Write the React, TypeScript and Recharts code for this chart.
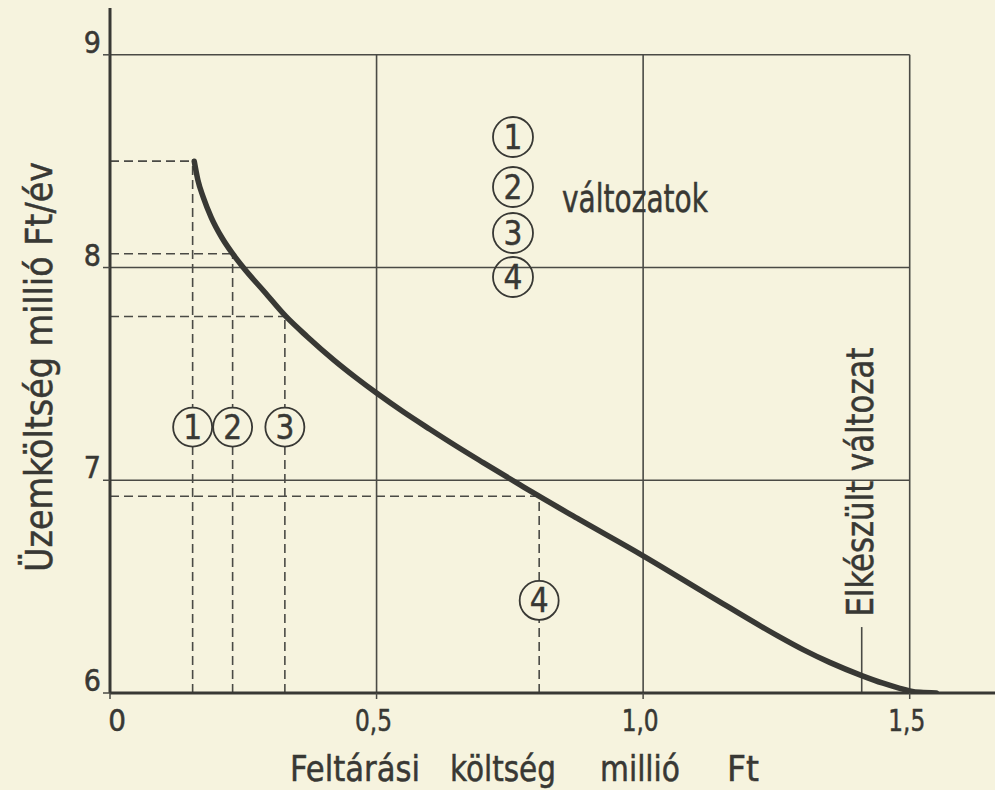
import React from 'react';
import {
  ComposedChart,
  Line,
  XAxis,
  YAxis,
  ReferenceLine,
  ReferenceDot,
} from 'recharts';

// üzemköltség görbe (millió Ft/év) a feltárási költség függvényében
const costX = [
  0.158, 0.165, 0.175, 0.19, 0.21, 0.23, 0.25, 0.29, 0.33, 0.37, 0.42, 0.46,
  0.5, 0.55, 0.6, 0.65, 0.7, 0.77, 0.8, 0.88, 1.0, 1.125, 1.25, 1.3, 1.35,
  1.41, 1.45, 1.48, 1.5, 1.52, 1.55,
];
const costY = [
  8.5, 8.41, 8.33, 8.235, 8.14, 8.065, 8.0, 7.885, 7.77, 7.675, 7.565, 7.485,
  7.41, 7.322, 7.24, 7.16, 7.083, 6.977, 6.932, 6.816, 6.645, 6.457, 6.272,
  6.204, 6.144, 6.082, 6.046, 6.023, 6.01, 6.003, 6.0,
];

// változatok
const variantIds = ['1', '2', '3', '4'];
const variantX = [0.155, 0.23, 0.328, 0.805];
const variantY = [8.5, 8.065, 7.77, 6.925];

const builtX = 1.41;
const builtTop = 6.31;

const xTicks = [0, 0.5, 1.0, 1.5];
const xTickLabels = ['0', '0,5', '1,0', '1,5'];
const yTicks = [6, 7, 8, 9];
const yTickLabels = ['6', '7', '8', '9'];
const gridX = [0.5, 1.0, 1.5];
const gridY = [7, 8, 9];

const xTitleWords = ['Feltárási', 'költség', 'millió', 'Ft'];
const yTitle = 'Üzemköltség millió Ft/év';
const builtLabel = 'Elkészült változat';
const legendLabel = 'változatok';

const INK = '#383834';
const LINE = '#4a4a45';
const PAPER = '#f6f3de';
const FONT = '"DejaVu Sans Condensed", "DejaVu Sans", sans-serif';

const data = costX.map((x, i) => ({ x, y: costY[i] }));

const stretch = (w?: number) =>
  w ? { textLength: w, lengthAdjust: 'spacingAndGlyphs' as const } : {};

const txt = { fill: INK, fontFamily: FONT, stroke: INK, strokeWidth: 0.5 };

const renderXTick = (props: any) => {
  const { x, y, payload } = props;
  const i = xTicks.indexOf(payload.value);
  const label = xTickLabels[i] ?? String(payload.value);
  const dx = payload.value === 0 ? 7 : -3;
  return (
    <text
      x={x + dx}
      y={y + 30}
      textAnchor="middle"
      fontSize={31}
      {...txt}
      {...stretch(label.length > 1 ? 37 : undefined)}
    >
      {label}
    </text>
  );
};

const renderYTick = (props: any) => {
  const { x, y, payload } = props;
  const i = yTicks.indexOf(payload.value);
  return (
    <text x={x} y={y - 2} textAnchor="end" fontSize={30} {...txt}>
      {yTickLabels[i]}
    </text>
  );
};

const renderXTitle = (props: any) => {
  const vb = props.viewBox ?? { x: 110, y: 693 };
  const at = [290, 450, 600, 727];
  const widths = [130, 106, 80, 32];
  return (
    <g>
      {xTitleWords.map((w, i) => (
        <text key={w} x={at[i]} y={vb.y + 88} fontSize={36} {...txt} {...stretch(widths[i])}>
          {w}
        </text>
      ))}
    </g>
  );
};

const renderYTitle = () => {
  const cx = 52;
  const cy = 367;
  return (
    <text
      x={cx}
      y={cy}
      transform={`rotate(-90 ${cx} ${cy})`}
      textAnchor="middle"
      fontSize={37}
      {...txt}
      {...stretch(410)}
    >
      {yTitle}
    </text>
  );
};

const renderBuiltLabel = (props: any) => {
  const vb = props.viewBox ?? { x: 862, y: 627 };
  const cx = vb.x + 11;
  const cy = vb.y - 145;
  return (
    <text
      x={cx}
      y={cy}
      transform={`rotate(-90 ${cx} ${cy})`}
      textAnchor="middle"
      fontSize={38}
      {...txt}
      {...stretch(269)}
    >
      {builtLabel}
    </text>
  );
};

const markerLabel = (id: string) => (props: any) => {
  const vb = props.viewBox ?? { x: 0, y: 0, width: 0, height: 0 };
  const cx = vb.x + (vb.width || 0) / 2;
  const cy = vb.y + (vb.height || 0) / 2;
  return (
    <text x={cx} y={cy + 12} textAnchor="middle" fontSize={33} {...txt} strokeWidth={0.4}>
      {id}
    </text>
  );
};

const VariantLegend = () => {
  const rows = [137, 187, 233, 277];
  return (
    <svg
      width={995}
      height={790}
      style={{ position: 'absolute', left: 0, top: 0, pointerEvents: 'none' }}
    >
      {variantIds.map((id, i) => (
        <g key={id}>
          <circle cx={513} cy={rows[i]} r={20} fill="none" stroke={INK} strokeWidth={1.8} />
          <text
            x={513}
            y={rows[i] + 12}
            textAnchor="middle"
            fontSize={33}
            {...txt}
            strokeWidth={0.4}
          >
            {id}
          </text>
        </g>
      ))}
      <text x={562} y={212} fontSize={39} {...txt} {...stretch(146)}>
        {legendLabel}
      </text>
    </svg>
  );
};

export default function App() {
  return (
    <div
      style={{
        position: 'fixed',
        left: 0,
        top: 0,
        width: 995,
        height: 790,
        background: PAPER,
        overflow: 'hidden',
      }}
    >
      <ComposedChart
        width={995}
        height={790}
        data={data}
        margin={{ top: 8, right: 0, bottom: 0, left: 0 }}
      >
        <XAxis
          type="number"
          dataKey="x"
          domain={[0, 1.66]}
          ticks={xTicks}
          interval={0}
          allowDataOverflow
          height={97}
          axisLine={{ stroke: INK, strokeWidth: 3 }}
          tickLine={{ stroke: LINE, strokeWidth: 1.5 }}
          tickSize={6}
          tick={renderXTick}
          label={renderXTitle}
        />
        <YAxis
          type="number"
          domain={[6, 9.22]}
          ticks={yTicks}
          interval={0}
          allowDataOverflow
          width={110}
          axisLine={{ stroke: INK, strokeWidth: 3 }}
          tickLine={{ stroke: LINE, strokeWidth: 1.5 }}
          tickSize={7}
          tick={renderYTick}
          label={renderYTitle}
        />

        {gridY.map((g) => (
          <ReferenceLine
            key={`gy${g}`}
            segment={[{ x: 0, y: g }, { x: 1.5, y: g }]}
            stroke={LINE}
            strokeWidth={1.6}
          />
        ))}
        {gridX.map((g) => (
          <ReferenceLine
            key={`gx${g}`}
            segment={[{ x: g, y: 6 }, { x: g, y: 9 }]}
            stroke={LINE}
            strokeWidth={1.6}
          />
        ))}

        {variantIds.map((id, i) => (
          <ReferenceLine
            key={`vh${id}`}
            segment={[{ x: 0, y: variantY[i] }, { x: variantX[i], y: variantY[i] }]}
            stroke={LINE}
            strokeWidth={1.6}
            strokeDasharray="9 5"
          />
        ))}
        {variantIds.map((id, i) => (
          <ReferenceLine
            key={`vv${id}`}
            segment={[{ x: variantX[i], y: 6 }, { x: variantX[i], y: variantY[i] }]}
            stroke={LINE}
            strokeWidth={1.6}
            strokeDasharray="9 5"
          />
        ))}

        <ReferenceLine
          segment={[{ x: builtX, y: 6 }, { x: builtX, y: builtTop }]}
          stroke={LINE}
          strokeWidth={1.6}
          label={renderBuiltLabel}
        />

        <Line
          type="monotone"
          dataKey="y"
          stroke={INK}
          strokeWidth={5.5}
          strokeLinecap="round"
          dot={false}
          activeDot={false}
          isAnimationActive={false}
        />

        {variantIds.map((id, i) => (
          <ReferenceDot
            key={`vd${id}`}
            x={variantX[i]}
            y={i < 3 ? 7.25 : 6.435}
            r={19.5}
            fill={PAPER}
            fillOpacity={1}
            stroke={INK}
            strokeWidth={1.8}
            label={markerLabel(id)}
          />
        ))}
      </ComposedChart>
      <VariantLegend />
    </div>
  );
}
